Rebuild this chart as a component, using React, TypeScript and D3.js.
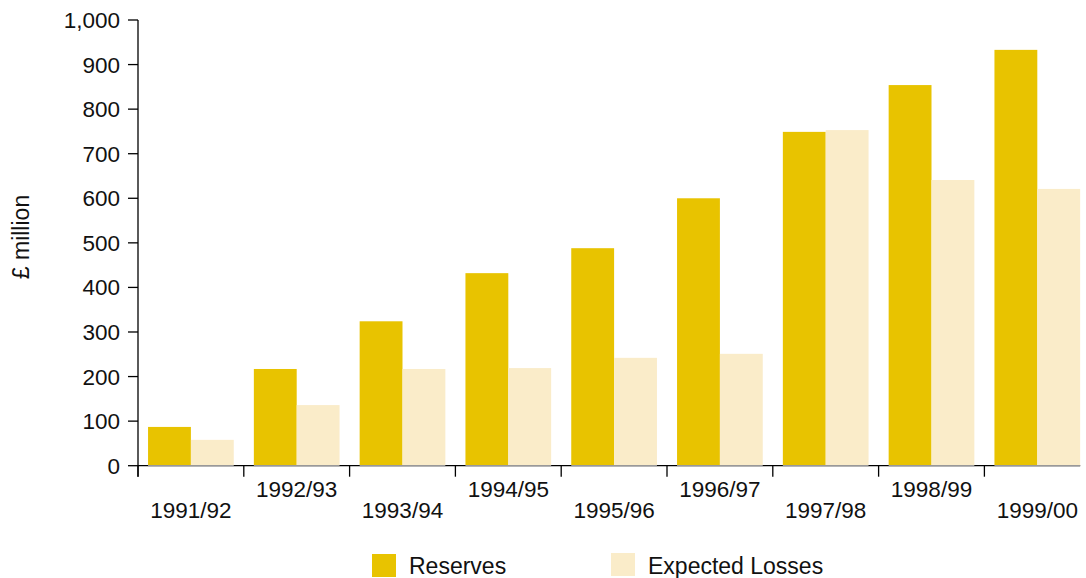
import React from "react";
import * as d3 from "d3";

const categories = ["1991/92", "1992/93", "1993/94", "1994/95", "1995/96", "1996/97", "1997/98", "1998/99", "1999/00"];
const reserves = [87, 217, 324, 432, 488, 600, 749, 854, 933];
const expectedLosses = [58, 136, 217, 219, 242, 251, 753, 641, 621];
const seriesNames = ["Reserves", "Expected Losses"];
const seriesColors = ["#E8C300", "#FAECC9"];
const yTicks = [0, 100, 200, 300, 400, 500, 600, 700, 800, 900, 1000];

const W = 1086;
const H = 578;
const FONT = "'Liberation Sans', Arial, sans-serif";

export default function App() {
  const x = d3.scaleBand<string>().domain(categories).range([138, 1090.2]).paddingInner(0.19).paddingOuter(0.095);
  const inner = d3.scaleBand<string>().domain(seriesNames).range([0, x.bandwidth()]);
  const y = d3.scaleLinear().domain([0, 1000]).range([465.7, 20]);
  const step = x.step();
  const gap = step * 0.19 / 2;
  const fmt = d3.format(",");
  const y0 = y(0);
  const values = [reserves, expectedLosses];
  const lastEnd = (x(categories[categories.length - 1]) as number) + x.bandwidth();

  return (
    <svg width={W} height={H} style={{ position: "absolute", left: 0, top: 0, background: "#fff" }} fontFamily={FONT}>
      {/* bars */}
      {categories.map((c, i) => (
        <g key={c} transform={`translate(${x(c)},0)`}>
          {seriesNames.map((s, k) => (
            <rect key={s} x={inner(s)} y={y(values[k][i])} width={inner.bandwidth()} height={y0 - y(values[k][i])} fill={seriesColors[k]} />
          ))}
        </g>
      ))}
      {/* x axis */}
      <line x1={138} x2={lastEnd} y1={y0} y2={y0} stroke="#000" strokeWidth={1.3} />
      {categories.map((c) => (
        <line key={"g" + c} x1={x(c)} x2={(x(c) as number) + x.bandwidth()} y1={y0} y2={y0} stroke="#999" strokeWidth={1.3} />
      ))}
      {categories.map((c) => {
        const tx = (x(c) as number) - gap;
        return <line key={"t" + c} x1={tx} x2={tx} y1={y0} y2={y0 + 11} stroke="#000" strokeWidth={1.3} />;
      })}
      {categories.map((c, i) => (
        <text key={"l" + c} x={(x(c) as number) + x.bandwidth() / 2} y={i % 2 === 0 ? 518 : 497} textAnchor="middle" fontSize={22.5} fill="#111">
          {c}
        </text>
      ))}
      {/* y axis */}
      <line x1={138} x2={138} y1={y(1000)} y2={y0 + 11} stroke="#000" strokeWidth={1.3} />
      {yTicks.map((t) => (
        <g key={"y" + t}>
          <line x1={128} x2={138} y1={y(t)} y2={y(t)} stroke="#000" strokeWidth={1.3} />
          <text x={120} y={y(t) + 8} textAnchor="end" fontSize={22.5} fill="#111">
            {fmt(t)}
          </text>
        </g>
      ))}
      <text transform={`translate(29,237) rotate(-90)`} textAnchor="middle" fontSize={23} fill="#111">
        £ million
      </text>
      {/* legend */}
      <rect x={372} y={554} width={24} height={23} fill={seriesColors[0]} />
      <text x={409} y={574} fontSize={23} fill="#111">{seriesNames[0]}</text>
      <rect x={611} y={553} width={24} height={23} fill={seriesColors[1]} />
      <text x={648} y={574} fontSize={23} fill="#111">{seriesNames[1]}</text>
    </svg>
  );
}
